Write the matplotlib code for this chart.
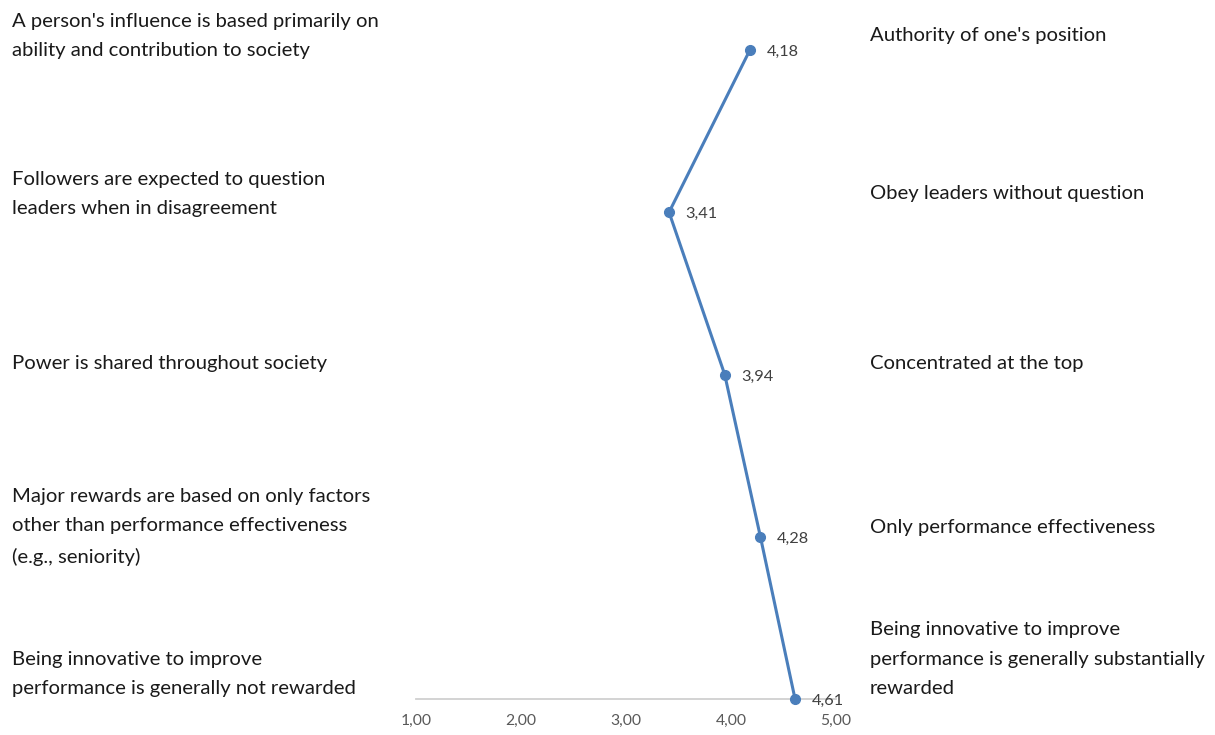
import matplotlib
matplotlib.use("Agg")
import matplotlib.pyplot as plt

# Survey scores per dimension (top to bottom)
scores = [4.18, 3.41, 3.94, 4.28, 4.61]
score_labels = ["4,18", "3,41", "3,94", "4,28", "4,61"]

left_labels = [
    "A person's influence is based primarily on\nability and contribution to society",
    "Followers are expected to question\nleaders when in disagreement",
    "Power is shared throughout society",
    "Major rewards are based on only factors\nother than performance effectiveness\n(e.g., seniority)",
    "Being innovative to improve\nperformance is generally not rewarded",
]
right_labels = [
    "Authority of one's position",
    "Obey leaders without question",
    "Concentrated at the top",
    "Only performance effectiveness",
    "Being innovative to improve\nperformance is generally substantially\nrewarded",
]
x_ticks = [1, 2, 3, 4, 5]
x_tick_labels = ["1,00", "2,00", "3,00", "4,00", "5,00"]

W, H = 1215, 735
fig = plt.figure(figsize=(W / 100, H / 100), dpi=100)
plt.rcParams["font.family"] = ["Lato", "DejaVu Sans"]

# plot area in pixel coordinates
x0, x1, ytop, ybot = 416, 836, 50, 699
ax = fig.add_axes([x0 / W, 1 - ybot / H, (x1 - x0) / W, (ybot - ytop) / H])

n = len(scores)
ypos = [n - 1 - i for i in range(n)]
blue = "#4a7ebb"
ax.plot(scores, ypos, color=blue, lw=2.2, marker="o", ms=7, clip_on=False, zorder=3)
for s, y, lab in zip(scores, ypos, score_labels):
    ax.annotate(lab, (s, y), xytext=(12, -1.5), textcoords="offset points",
                va="center", ha="left", fontsize=11.8, color="#404040")

ax.set_xlim(1, 5)
ax.set_ylim(0, n - 1)
for sp in ["top", "right", "left"]:
    ax.spines[sp].set_visible(False)
ax.spines["bottom"].set_color("#d0d0d0")
ax.spines["bottom"].set_linewidth(1.3)
ax.set_yticks([])
ax.set_xticks(x_ticks)
ax.set_xticklabels(x_tick_labels, fontsize=11.3, color="#595959")
ax.tick_params(axis="x", length=0, pad=11)

# descriptive labels at both ends of each scale
left_y = [36, 194, 364, 527, 674]
right_y = [36, 194, 364, 527, 659]
for txt, y in zip(left_labels, left_y):
    fig.text(12 / W, 1 - y / H, txt, ha="left", va="center", fontsize=14.55,
             color="#1a1a1a", linespacing=1.9)
for txt, y in zip(right_labels, right_y):
    fig.text(870 / W, 1 - y / H, txt, ha="left", va="center", fontsize=14.55,
             color="#1a1a1a", linespacing=1.9)

fig.savefig("out.png", dpi=100, facecolor="white")
